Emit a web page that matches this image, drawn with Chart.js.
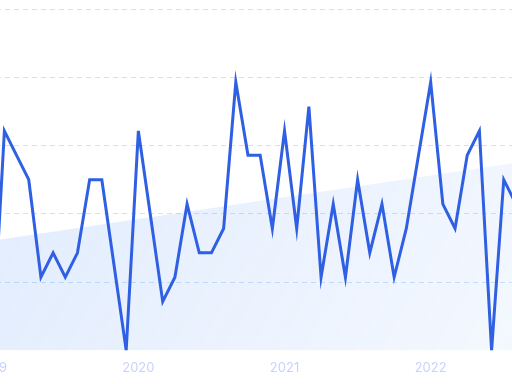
<!DOCTYPE html>
<html>
<head>
<meta charset="utf-8">
<script src="https://cdn.jsdelivr.net/npm/chart.js@4/dist/chart.umd.min.js"></script>
<style>
  html, body { margin: 0; padding: 0; background: #ffffff; overflow: hidden; width: 512px; height: 384px; }
  #wrap { position: absolute; left: -40px; top: 0; width: 592px; height: 394px; }
</style>
</head>
<body>
<div id="wrap"><canvas id="c"></canvas></div>
<script>
// Month index (0 = Jan 2019)
const months = [0,1,2,3,4,5,6,7,8,9,10,11,12,13,14,15,16,17,18,19,20,21,22,23,24,25,26,27,28,29,30,31,32,33,34,35,36,37,38,39,40,41,42,43];
const values = [0,9,8,7,3,4,3,4,7,7,3.5,0,9,5.5,2,3,6,4,4,5,11,8,8,5,9,5,10,3,6,3,7,4,6,3,5,8,11,6,5,8,9,0,7,6];
// Trend band (start and end points)
const trendMonths = [0, 43];
const trendValues = [4.5, 7.69];
const yearLabels = ['2019', '2020', '2021', '2022'];
const yearTicks = [0, 12, 24, 36];

const lineData = months.map((m, i) => ({ x: m, y: values[i] }));
const trendData = trendMonths.map((m, i) => ({ x: m, y: trendValues[i] }));

new Chart(document.getElementById('c'), {
  type: 'line',
  data: {
    datasets: [
      {
        data: lineData,
        borderColor: '#2f5fe3',
        borderWidth: 3,
        pointRadius: 0,
        tension: 0,
        fill: false,
        order: 0
      },
      {
        data: trendData,
        borderWidth: 0,
        borderColor: 'rgba(0,0,0,0)',
        pointRadius: 0,
        fill: 'start',
        order: 1,
        backgroundColor: (ctx) => {
          const { chart } = ctx;
          const a = chart.chartArea;
          if (!a) return 'rgba(59,130,246,0.12)';
          const g = chart.ctx.createLinearGradient(a.left, a.top, a.right, a.bottom);
          g.addColorStop(0, 'rgba(59,130,246,0.17)');
          g.addColorStop(1, 'rgba(59,130,246,0.05)');
          return g;
        }
      }
    ]
  },
  options: {
    responsive: true,
    maintainAspectRatio: false,
    animation: false,
    layout: { padding: { top: 9, bottom: 8, left: 0, right: 0 } },
    plugins: { legend: { display: false }, tooltip: { enabled: false } },
    scales: {
      x: {
        type: 'linear',
        min: -2.644,
        max: 45.96,
        grid: { display: false, drawTicks: false },
        border: { display: false },
        afterBuildTicks: (scale) => {
          scale.ticks = yearTicks.map(v => ({ value: v }));
        },
        ticks: {
          maxRotation: 0,
          autoSkip: false,
          padding: 10,
          color: '#c7d2fe',
          font: { family: 'Inter', size: 13 },
          callback: (v) => {
            const idx = yearTicks.indexOf(v);
            return idx >= 0 ? yearLabels[idx] : '';
          }
        }
      },
      y: {
        min: 0,
        max: 14,
        grid: {
          drawTicks: false,
          color: (ctx) => (ctx.tick && ctx.tick.value === 0) ? 'rgba(0,0,0,0)' : '#cde3fb',
          lineWidth: 1
        },
        border: { display: false, dash: [5, 4] },
        ticks: { display: false, stepSize: 2.8 }
      }
    }
  }
});
</script>
</body>
</html>
